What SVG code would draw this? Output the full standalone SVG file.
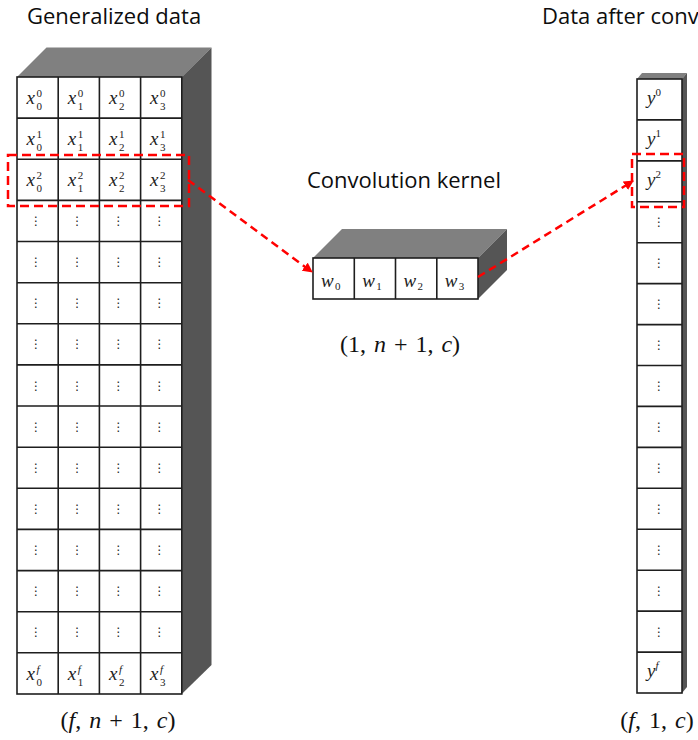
<svg xmlns="http://www.w3.org/2000/svg" width="698" height="740" viewBox="0 0 698 740">
  <defs>
    <style>
      .title { font-family: "Open Sans", "Noto Sans", sans-serif; font-size: 22px; fill: #0d0d0d; }
      .top { fill: #808080; }
      .side { fill: #555555; }
      .front { fill: #ffffff; stroke: #1e1e1e; stroke-width: 1.6; }
      .grid { fill: none; stroke: #1e1e1e; stroke-width: 1.6; }
      .m { font-family: "Liberation Serif", "DejaVu Serif", serif; font-style: italic; font-size: 19px; fill: #222; }
      .sc { font-size: 11px; font-style: normal; }
      .sf { font-size: 11px; font-style: italic; }
      .dots { font-family: "DejaVu Sans", sans-serif; font-size: 12px; fill: #222; text-anchor: middle; }
      .dim { font-family: "Liberation Serif", "DejaVu Serif", serif; font-size: 24px; fill: #111; text-anchor: middle; word-spacing: 2px; }
      .it { font-style: italic; }
      .sel { fill: none; stroke: #ff0000; stroke-width: 2.5; stroke-dasharray: 9 5; }
      .flow { fill: none; stroke: #ff0000; stroke-width: 2.5; stroke-dasharray: 8 5; }
    </style>
    <marker id="ah" viewBox="0 0 10 10" refX="9" refY="5" markerWidth="4" markerHeight="4" orient="auto" markerUnits="strokeWidth">
      <path d="M0,0 L10,5 L0,10 z" fill="#ff0000"/>
    </marker>
  </defs>

  <rect width="698" height="740" fill="#ffffff"/>

  <!-- Input block: f rows by n+1 columns -->
  <g id="generalized-data">
    <text class="title" x="27" y="24">Generalized data</text>
    <polygon class="top" points="17,77 46.5,47.5 211.5,47.5 181.8,77"/>
    <polygon class="side" points="181.8,77 211.5,47.5 211.5,665 181.8,694"/>
    <rect class="front" x="17" y="77" width="164.8" height="617"/>
    <path class="grid" d="M58.2,77V694 M99.4,77V694 M140.6,77V694
      M17,118.1H181.8 M17,159.3H181.8 M17,200.4H181.8 M17,241.5H181.8 M17,282.7H181.8
      M17,323.8H181.8 M17,364.9H181.8 M17,406H181.8 M17,447.2H181.8 M17,488.3H181.8
      M17,529.4H181.8 M17,570.6H181.8 M17,611.7H181.8 M17,652.8H181.8"/>

    <!-- row 0 -->
    <text class="m" x="26.5" y="104">x<tspan class="sc" x="36.5" dy="-7">0</tspan><tspan class="sc" x="36.5" dy="13">0</tspan></text>
    <text class="m" x="67.7" y="104">x<tspan class="sc" x="77.7" dy="-7">0</tspan><tspan class="sc" x="77.7" dy="13">1</tspan></text>
    <text class="m" x="108.9" y="104">x<tspan class="sc" x="118.9" dy="-7">0</tspan><tspan class="sc" x="118.9" dy="13">2</tspan></text>
    <text class="m" x="150.1" y="104">x<tspan class="sc" x="160.1" dy="-7">0</tspan><tspan class="sc" x="160.1" dy="13">3</tspan></text>
    <!-- row 1 -->
    <text class="m" x="26.5" y="145.1">x<tspan class="sc" x="36.5" dy="-7">1</tspan><tspan class="sc" x="36.5" dy="13">0</tspan></text>
    <text class="m" x="67.7" y="145.1">x<tspan class="sc" x="77.7" dy="-7">1</tspan><tspan class="sc" x="77.7" dy="13">1</tspan></text>
    <text class="m" x="108.9" y="145.1">x<tspan class="sc" x="118.9" dy="-7">1</tspan><tspan class="sc" x="118.9" dy="13">2</tspan></text>
    <text class="m" x="150.1" y="145.1">x<tspan class="sc" x="160.1" dy="-7">1</tspan><tspan class="sc" x="160.1" dy="13">3</tspan></text>
    <!-- row 2 -->
    <text class="m" x="26.5" y="186.3">x<tspan class="sc" x="36.5" dy="-7">2</tspan><tspan class="sc" x="36.5" dy="13">0</tspan></text>
    <text class="m" x="67.7" y="186.3">x<tspan class="sc" x="77.7" dy="-7">2</tspan><tspan class="sc" x="77.7" dy="13">1</tspan></text>
    <text class="m" x="108.9" y="186.3">x<tspan class="sc" x="118.9" dy="-7">2</tspan><tspan class="sc" x="118.9" dy="13">2</tspan></text>
    <text class="m" x="150.1" y="186.3">x<tspan class="sc" x="160.1" dy="-7">2</tspan><tspan class="sc" x="160.1" dy="13">3</tspan></text>
    <!-- rows 3..13: vertical ellipses -->
    <text class="dots" x="36 77.2 118.4 159.6" y="225">⋮⋮⋮⋮</text>
    <text class="dots" x="36 77.2 118.4 159.6" y="266.1">⋮⋮⋮⋮</text>
    <text class="dots" x="36 77.2 118.4 159.6" y="307.3">⋮⋮⋮⋮</text>
    <text class="dots" x="36 77.2 118.4 159.6" y="348.4">⋮⋮⋮⋮</text>
    <text class="dots" x="36 77.2 118.4 159.6" y="389.5">⋮⋮⋮⋮</text>
    <text class="dots" x="36 77.2 118.4 159.6" y="430.6">⋮⋮⋮⋮</text>
    <text class="dots" x="36 77.2 118.4 159.6" y="471.8">⋮⋮⋮⋮</text>
    <text class="dots" x="36 77.2 118.4 159.6" y="512.9">⋮⋮⋮⋮</text>
    <text class="dots" x="36 77.2 118.4 159.6" y="554">⋮⋮⋮⋮</text>
    <text class="dots" x="36 77.2 118.4 159.6" y="595.2">⋮⋮⋮⋮</text>
    <text class="dots" x="36 77.2 118.4 159.6" y="636.3">⋮⋮⋮⋮</text>
    <!-- row f -->
    <text class="m" x="26.5" y="679.8">x<tspan class="sf" x="36.5" dy="-7">f</tspan><tspan class="sc" x="36.5" dy="13">0</tspan></text>
    <text class="m" x="67.7" y="679.8">x<tspan class="sf" x="77.7" dy="-7">f</tspan><tspan class="sc" x="77.7" dy="13">1</tspan></text>
    <text class="m" x="108.9" y="679.8">x<tspan class="sf" x="118.9" dy="-7">f</tspan><tspan class="sc" x="118.9" dy="13">2</tspan></text>
    <text class="m" x="150.1" y="679.8">x<tspan class="sf" x="160.1" dy="-7">f</tspan><tspan class="sc" x="160.1" dy="13">3</tspan></text>

    <rect class="sel" x="8" y="155" width="181" height="51"/>
    <text class="dim" x="118" y="728">(<tspan class="it">f</tspan>, <tspan class="it">n</tspan> + 1, <tspan class="it">c</tspan>)</text>
  </g>

  <!-- Kernel block: one row of n+1 weights -->
  <g id="convolution-kernel">
    <text class="title" x="307" y="188">Convolution kernel</text>
    <polygon class="top" points="313,258 342,229 507,229 478,258"/>
    <polygon class="side" points="478,258 507,229 507,270 478,299"/>
    <rect class="front" x="313" y="258" width="165" height="41"/>
    <path class="grid" d="M354.3,258V299 M395.5,258V299 M436.8,258V299"/>
    <text class="m" x="321" y="287">w<tspan class="sc" x="335" dy="3">0</tspan></text>
    <text class="m" x="362.3" y="287">w<tspan class="sc" x="376.3" dy="3">1</tspan></text>
    <text class="m" x="403.5" y="287">w<tspan class="sc" x="417.5" dy="3">2</tspan></text>
    <text class="m" x="444.8" y="287">w<tspan class="sc" x="458.8" dy="3">3</tspan></text>
    <text class="dim" x="400" y="352">(1, <tspan class="it">n</tspan> + 1, <tspan class="it">c</tspan>)</text>
  </g>

  <!-- Output column: f rows by 1 column -->
  <g id="data-after-convolution">
    <text class="title" x="542" y="24">Data after conv</text>
    <polygon class="top" points="637,79 642,73 687,73 682,79"/>
    <polygon class="side" points="682,79 687,73 687,687 682,693"/>
    <rect class="front" x="637" y="79" width="45" height="614"/>
    <path class="grid" d="M637,119.9H682 M637,160.9H682 M637,201.8H682 M637,242.7H682 M637,283.6H682
      M637,324.6H682 M637,365.5H682 M637,406.4H682 M637,447.4H682 M637,488.3H682
      M637,529.2H682 M637,570.2H682 M637,611.1H682 M637,652.1H682"/>
    <text class="m" x="647" y="104">y<tspan class="sc" dy="-8">0</tspan></text>
    <text class="m" x="647" y="144.9">y<tspan class="sc" dy="-8">1</tspan></text>
    <text class="m" x="647" y="185.9">y<tspan class="sc" dy="-8">2</tspan></text>
    <text class="dots" x="659" y="226.4">⋮</text>
    <text class="dots" x="659" y="267.3">⋮</text>
    <text class="dots" x="659" y="308.2">⋮</text>
    <text class="dots" x="659" y="349.2">⋮</text>
    <text class="dots" x="659" y="390.1">⋮</text>
    <text class="dots" x="659" y="431">⋮</text>
    <text class="dots" x="659" y="472">⋮</text>
    <text class="dots" x="659" y="512.9">⋮</text>
    <text class="dots" x="659" y="553.8">⋮</text>
    <text class="dots" x="659" y="594.8">⋮</text>
    <text class="dots" x="659" y="635.7">⋮</text>
    <text class="m" x="647" y="677.1">y<tspan class="sf" dy="-8">f</tspan></text>
    <rect class="sel" x="632" y="154" width="52" height="53"/>
    <text class="dim" x="657" y="728">(<tspan class="it">f</tspan>, 1, <tspan class="it">c</tspan>)</text>
  </g>

  <!-- Connectors -->
  <g id="connectors">
    <path class="flow" d="M188,180 L312,272" marker-end="url(#ah)"/>
    <path class="flow" d="M478,277 L633,181" marker-end="url(#ah)"/>
  </g>
</svg>
